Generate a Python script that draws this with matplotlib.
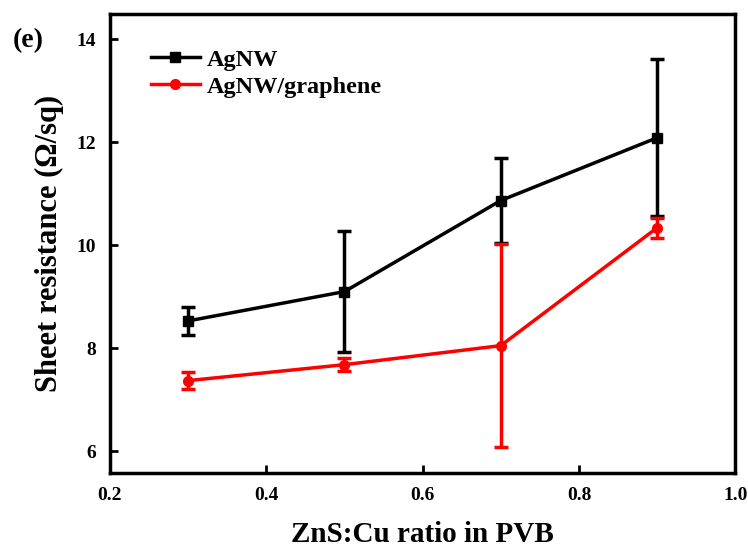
import matplotlib
matplotlib.use("Agg")
import matplotlib.pyplot as plt

plt.rcParams['font.family'] = ['Liberation Serif', 'DejaVu Serif']
plt.rcParams['font.weight'] = 'bold'

ratio = [0.3, 0.5, 0.7, 0.9]
agnw = [8.53, 9.10, 10.87, 12.09]
agnw_err = [0.27, 1.18, 0.83, 1.53]
agnw_gr = [7.37, 7.68, 8.05, 10.34]
agnw_gr_err = [0.17, 0.12, 1.97, 0.19]

fig = plt.figure(figsize=(7.48, 5.49), dpi=100)
ax = fig.add_axes([0.147, 0.138, 0.836, 0.837])

e1 = ax.errorbar(ratio, agnw, yerr=agnw_err, color='black', marker='s', markersize=7,
                 linewidth=2.5, elinewidth=2.5, capsize=5, capthick=2.5)
e2 = ax.errorbar(ratio, agnw_gr, yerr=agnw_gr_err, color='red', marker='o', markersize=7,
                 linewidth=2.5, elinewidth=2.5, capsize=5, capthick=2.5)

ax.set_xlim(0.2, 1.0)
ax.set_ylim(5.57, 14.5)
ax.set_xticks([0.2, 0.4, 0.6, 0.8, 1.0])
ax.set_yticks([6, 8, 10, 12, 14])
ax.tick_params(direction='in', length=6, width=2, labelsize=14, pad=10)
for lbl in ax.get_xticklabels() + ax.get_yticklabels():
    lbl.set_fontweight('bold')
for s in ax.spines.values():
    s.set_linewidth(2.5)

ax.set_xlabel('ZnS:Cu ratio in PVB', fontsize=21, fontweight='bold', labelpad=12)
ax.set_ylabel('Sheet resistance (Ω/sq)', fontsize=22, fontweight='bold', labelpad=9)

ax.legend([e1.lines[0], e2.lines[0]], ['AgNW', 'AgNW/graphene'], loc='upper left',
          frameon=False, fontsize=17.5, handlelength=2.0, borderaxespad=0,
          bbox_to_anchor=(0.05, 0.945), labelspacing=0.2, handletextpad=0.3)
fig.text(0.017, 0.915, '(e)', fontsize=20, fontweight='bold')

fig.savefig('out.png', dpi=100)
